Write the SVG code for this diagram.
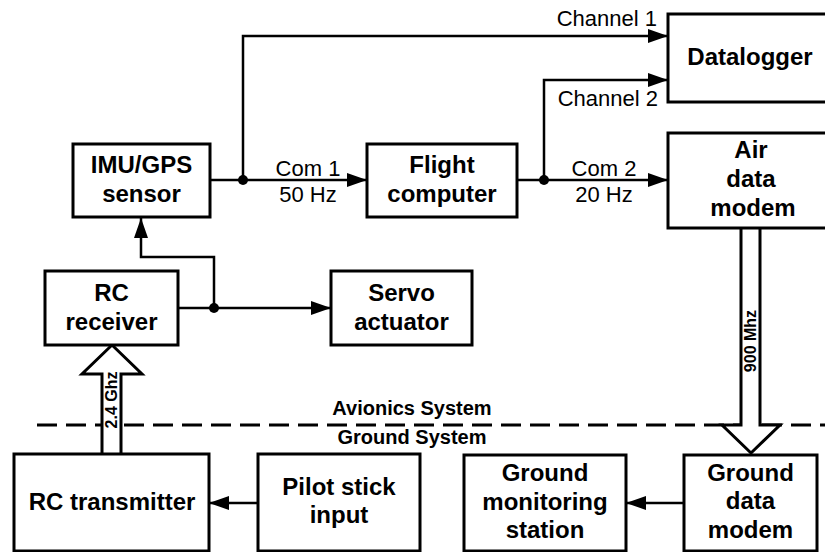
<svg xmlns="http://www.w3.org/2000/svg" width="825" height="552" viewBox="0 0 825 552">
  <defs>
    <marker id="arrow" viewBox="0 0 20 14" refX="20" refY="7" markerWidth="20" markerHeight="14" markerUnits="userSpaceOnUse" orient="auto">
      <path d="M0,0 L20,7 L0,14 Z" fill="#000"/>
    </marker>
    <style>
      .box { fill: #fff; stroke: #000; stroke-width: 3; }
      .lbl { font-family: "Liberation Sans", Arial, sans-serif; font-weight: bold; font-size: 24px; text-anchor: middle; fill: #000; }
      .note { font-family: "Liberation Sans", Arial, sans-serif; font-size: 22px; fill: #000; }
      .sys { font-family: "Liberation Sans", Arial, sans-serif; font-weight: bold; font-size: 20px; text-anchor: middle; fill: #000; }
      .freq { font-family: "Liberation Sans", Arial, sans-serif; font-weight: bold; font-size: 16px; text-anchor: middle; fill: #000; }
      .wire { fill: none; stroke: #000; stroke-width: 2.5; }
      .big { fill: #fff; stroke: #000; stroke-width: 3; stroke-linejoin: miter; }
    </style>
  </defs>
  <rect width="825" height="552" fill="#fff"/>

  <!-- boundary between airborne and ground equipment -->
  <line x1="37" y1="425" x2="825" y2="425" stroke="#000" stroke-width="3" stroke-dasharray="20 9"/>
  <text class="sys" x="412" y="415">Avionics System</text>
  <text class="sys" x="412" y="444">Ground System</text>

  <g id="connectors">
    <path class="wire" d="M210,180 L367,180" marker-end="url(#arrow)"/>
    <path class="wire" d="M243,180 L243,36 L668,36" marker-end="url(#arrow)"/>
    <path class="wire" d="M517,180 L668,180" marker-end="url(#arrow)"/>
    <path class="wire" d="M544,180 L544,80 L668,80" marker-end="url(#arrow)"/>
    <path class="wire" d="M178,308 L331,308" marker-end="url(#arrow)"/>
    <path class="wire" d="M214,308 L214,257 L141,257 L141,218" marker-end="url(#arrow)"/>
    <path class="wire" d="M258,503 L209,503" marker-end="url(#arrow)"/>
    <path class="wire" d="M684,503 L626,503" marker-end="url(#arrow)"/>
    <circle cx="243" cy="180" r="5" fill="#000"/>
    <circle cx="544" cy="180" r="5" fill="#000"/>
    <circle cx="214" cy="308" r="5" fill="#000"/>
    <text class="note" x="308" y="176" text-anchor="middle">Com 1</text>
    <text class="note" x="308" y="202" text-anchor="middle">50 Hz</text>
    <text class="note" x="604" y="176" text-anchor="middle">Com 2</text>
    <text class="note" x="604" y="202" text-anchor="middle">20 Hz</text>
    <text class="note" x="657" y="26" text-anchor="end">Channel 1</text>
    <text class="note" x="658" y="106" text-anchor="end">Channel 2</text>

    <!-- radio links -->
    <path class="big" d="M102,454 L102,374 L82,374 L112,345 L142,374 L121,374 L121,454"/>
    <text class="freq" transform="translate(117,400) rotate(-90)">2.4 Ghz</text>
    <path class="big" d="M741,228 L741,425 L722,425 L751,453 L780,425 L760,425 L760,228"/>
    <text class="freq" transform="translate(756,341) rotate(-90)">900 Mhz</text>
  </g>

  <g id="imu-gps">
    <rect class="box" x="73" y="144" width="137" height="73"/>
    <text class="lbl" x="141.5" y="173">IMU/GPS</text>
    <text class="lbl" x="141.5" y="202">sensor</text>
  </g>
  <g id="flight-computer">
    <rect class="box" x="367" y="144" width="150" height="73"/>
    <text class="lbl" x="442" y="173">Flight</text>
    <text class="lbl" x="442" y="202">computer</text>
  </g>
  <g id="datalogger">
    <rect class="box" x="668" y="14" width="170" height="88"/>
    <text class="lbl" x="750" y="65">Datalogger</text>
  </g>
  <g id="air-data-modem">
    <rect class="box" x="668" y="133" width="170" height="95"/>
    <text class="lbl" x="751" y="158">Air</text>
    <text class="lbl" x="751" y="187">data</text>
    <text class="lbl" x="753" y="216">modem</text>
  </g>
  <g id="rc-receiver">
    <rect class="box" x="45" y="271" width="133" height="74"/>
    <text class="lbl" x="111.5" y="301">RC</text>
    <text class="lbl" x="111.5" y="330">receiver</text>
  </g>
  <g id="servo-actuator">
    <rect class="box" x="331" y="271" width="141" height="74"/>
    <text class="lbl" x="401.5" y="301">Servo</text>
    <text class="lbl" x="401.5" y="330">actuator</text>
  </g>
  <g id="rc-transmitter">
    <rect class="box" x="14" y="454" width="195" height="97"/>
    <text class="lbl" x="112" y="510">RC transmitter</text>
  </g>
  <g id="pilot-stick">
    <rect class="box" x="258" y="454" width="162" height="97"/>
    <text class="lbl" x="339" y="495">Pilot stick</text>
    <text class="lbl" x="339" y="523">input</text>
  </g>
  <g id="ground-monitoring">
    <rect class="box" x="464" y="455" width="162" height="96"/>
    <text class="lbl" x="545" y="481">Ground</text>
    <text class="lbl" x="545" y="510">monitoring</text>
    <text class="lbl" x="545" y="538">station</text>
  </g>
  <g id="ground-data-modem">
    <rect class="box" x="684" y="455" width="133" height="96"/>
    <text class="lbl" x="750.5" y="481">Ground</text>
    <text class="lbl" x="750.5" y="509">data</text>
    <text class="lbl" x="750.5" y="538">modem</text>
  </g>
</svg>
